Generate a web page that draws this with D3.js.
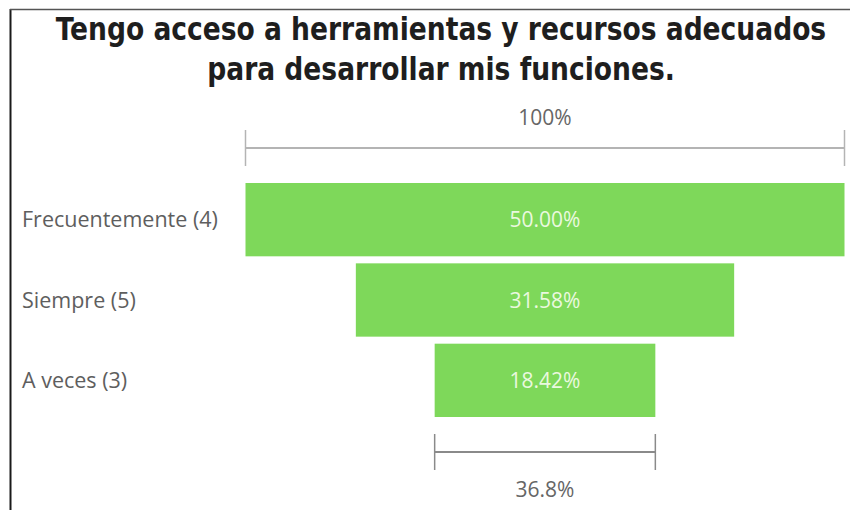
<!DOCTYPE html>
<html>
<head>
<meta charset="utf-8">
<script src="https://cdn.jsdelivr.net/npm/d3@7"></script>
<style>
  html, body { margin: 0; padding: 0; background: #fff; }
  svg { display: block; }
</style>
</head>
<body>
<svg id="chart" width="850" height="510"></svg>
<script>
// Funnel data: share of answers per option
const categories = ["Frecuentemente (4)", "Siempre (5)", "A veces (3)"];
const values = [50.00, 31.58, 18.42];
const titleLines = ["Tengo acceso a herramientas y recursos adecuados", "para desarrollar mis funciones."];

const W = 850, H = 510;
const svg = d3.select("#chart");

// Frame: left and top rules
svg.append("line").attr("x1", 10.5).attr("x2", 10.5).attr("y1", 9).attr("y2", H)
  .attr("stroke", "#1a1a1a").attr("stroke-width", 2);
svg.append("line").attr("x1", 10).attr("x2", W).attr("y1", 9.5).attr("y2", 9.5)
  .attr("stroke", "#555").attr("stroke-width", 1.5);

// Title: condensed bold, narrowed slightly for a tall, tight look
svg.append("g")
  .attr("transform", "translate(441,0) scale(0.922,1)")
  .selectAll("text").data(titleLines).join("text")
  .attr("x", 0).attr("y", (d, i) => 40 + i * 40)
  .attr("text-anchor", "middle")
  .attr("font-family", "'DejaVu Sans Condensed', 'DejaVu Sans', sans-serif")
  .attr("font-weight", "bold").attr("font-size", 32)
  .attr("fill", "#1e1e1e")
  .text(d => d);

// Scales
const cx = 545;
const maxW = 599;
const w = d3.scaleLinear().domain([0, d3.max(values)]).range([0, maxW]);
const y = d3.scaleBand().domain(categories).range([183, 417]).paddingInner(0.0875).paddingOuter(0);

const font = "'Open Sans', 'Noto Sans', sans-serif";

// Bars
svg.append("g").selectAll("rect").data(values).join("rect")
  .attr("x", d => cx - w(d) / 2)
  .attr("y", (d, i) => y(categories[i]))
  .attr("width", d => w(d))
  .attr("height", y.bandwidth())
  .attr("fill", "#7ED85A");

// Value labels
svg.append("g").selectAll("text").data(values).join("text")
  .attr("x", cx)
  .attr("y", (d, i) => y(categories[i]) + y.bandwidth() / 2)
  .attr("dy", "0.36em")
  .attr("text-anchor", "middle")
  .attr("font-family", font).attr("font-size", 21)
  .attr("fill", "#eaf8df")
  .text(d => d.toFixed(2) + "%");

// Category labels
svg.append("g").selectAll("text").data(categories).join("text")
  .attr("x", 22)
  .attr("y", d => y(d) + y.bandwidth() / 2)
  .attr("dy", "0.36em")
  .attr("font-family", font).attr("font-size", 21.5)
  .attr("fill", "#5e5e5e")
  .text(d => d);

// Measure brackets: first bar (100%) above, last bar relative to first below
function bracket(width, lineY, labelY, label, color) {
  const g = svg.append("g");
  const x0 = cx - width / 2, x1 = cx + width / 2;
  g.append("line").attr("x1", x0).attr("x2", x1).attr("y1", lineY).attr("y2", lineY)
    .attr("stroke", color).attr("stroke-width", 2);
  [x0, x1].forEach(x => g.append("line").attr("x1", x).attr("x2", x)
    .attr("y1", lineY - 18).attr("y2", lineY + 18)
    .attr("stroke", color).attr("stroke-width", 1.5));
  g.append("text").attr("x", cx).attr("y", labelY).attr("dy", "0.36em")
    .attr("text-anchor", "middle")
    .attr("font-family", font).attr("font-size", 21)
    .attr("fill", "#666").text(label);
}
const first = values[0], last = values[values.length - 1];
bracket(w(first), 148, 117, "100%", "#b4b4b4");
bracket(w(last), 452, 489, (last / first * 100).toFixed(1) + "%", "#8a8a8a");
</script>
</body>
</html>
